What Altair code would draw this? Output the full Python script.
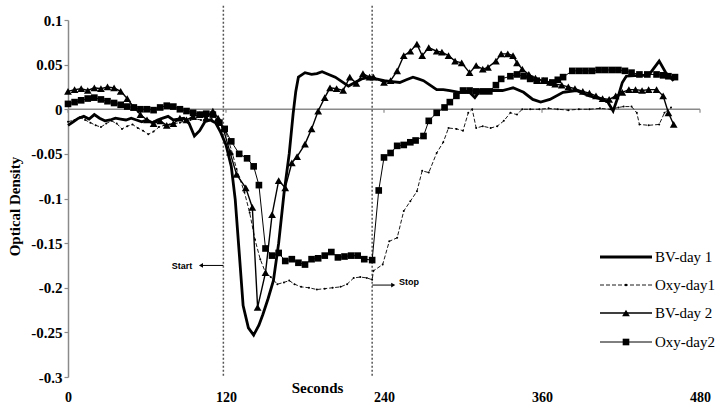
import altair as alt
import pandas as pd

# ---------------- series (time in s, optical density) ----------------
bv1_t = [0, 4, 8, 12, 16, 20, 24, 28, 32, 36, 40, 44, 48, 52, 56, 60, 64, 68, 72, 76,
         80, 84, 88, 92, 96, 100, 104, 108, 112, 116, 120, 124, 127, 130, 133, 137, 141,
         145, 148, 152, 156, 160, 164, 168, 171, 173, 175, 180, 185, 189, 193, 198, 203,
         208, 213, 218, 223, 229, 234, 240, 246, 252, 257, 262, 266, 270, 275, 280, 285,
         290, 297, 305, 309, 313, 320, 330, 338, 346, 353, 359, 366, 376, 386, 396, 406,
         410, 414, 418, 421, 424, 434, 441, 445, 449, 454, 460]
bv1_v = [-0.018, -0.014, -0.010, -0.008, -0.011, -0.006, -0.010, -0.013, -0.012, -0.010,
         -0.011, -0.012, -0.010, -0.012, -0.014, -0.012, -0.015, -0.012, -0.010, -0.008,
         -0.012, -0.011, -0.010, -0.016, -0.030, -0.024, -0.014, -0.012, -0.015, -0.026,
         -0.040, -0.064, -0.101, -0.160, -0.220, -0.245, -0.253, -0.242, -0.230, -0.212,
         -0.192, -0.150, -0.095, -0.050, -0.005, 0.020, 0.036, 0.041, 0.039, 0.040,
         0.042, 0.039, 0.036, 0.031, 0.026, 0.030, 0.034, 0.036, 0.034, 0.032,
         0.031, 0.030, 0.033, 0.036, 0.034, 0.032, 0.027, 0.022, 0.022, 0.021,
         0.019, 0.019, 0.013, 0.021, 0.021, 0.021, 0.024, 0.019, 0.011, 0.008,
         0.011, 0.019, 0.021, 0.015, 0.011, 0.008, -0.002, 0.015, 0.030, 0.037,
         0.038, 0.038, 0.046, 0.054, 0.041, 0.032]

oxy1_t = [0, 5, 9, 13, 17, 21, 25, 29, 33, 37, 41, 45, 49, 53, 57, 61, 65, 69, 73, 77,
          81, 85, 89, 93, 97, 101, 105, 109, 113, 117, 120, 125, 128, 134, 138, 142, 146,
          150, 154, 159, 164, 168, 172, 177, 183, 189, 195, 201, 207, 212, 217, 222, 227,
          231, 232, 239, 244, 250, 255, 260, 265, 269, 274, 280, 285, 289, 295, 300, 304,
          307, 310, 315, 321, 326, 331, 336, 341, 345, 351, 358, 365, 372, 380, 388, 396,
          404, 412, 418, 422, 428, 432, 434, 441, 449, 453, 458]
oxy1_v = [-0.014, -0.012, -0.009, -0.012, -0.015, -0.018, -0.020, -0.016, -0.013, -0.016,
          -0.022, -0.019, -0.017, -0.021, -0.024, -0.028, -0.025, -0.020, -0.018, -0.017,
          -0.016, -0.015, -0.013, -0.012, -0.011, -0.012, -0.011, -0.011, -0.012, -0.020,
          -0.026, -0.050, -0.067, -0.093, -0.116, -0.146, -0.168, -0.183, -0.188, -0.196,
          -0.194, -0.192, -0.196, -0.199, -0.200, -0.202, -0.201, -0.200, -0.199, -0.196,
          -0.189, -0.188, -0.189, -0.191, -0.181, -0.174, -0.148, -0.144, -0.114, -0.103,
          -0.092, -0.069, -0.071, -0.049, -0.037, -0.021, -0.022, -0.024, -0.004, 0.000,
          -0.021, -0.019, -0.021, -0.019, -0.013, -0.004, -0.006, 0.000, 0.000, 0.000,
          0.001, 0.000, -0.001, 0.000, 0.000, 0.001, 0.000, 0.002, 0.003, 0.003,
          -0.004, -0.017, -0.018, -0.017, -0.004, 0.002]

bv2_t = [0, 5, 10, 15, 20, 25, 30, 35, 40, 45, 50, 55, 60, 65, 70, 75, 80, 85, 90, 95,
         100, 105, 110, 114, 118, 123, 128, 135, 140, 144, 150, 155, 160, 165, 170, 174,
         180, 185, 190, 195, 199, 204, 209, 214, 219, 224, 229, 232, 240, 245, 250, 255,
         260, 265, 269, 274, 280, 284, 289, 294, 299, 305, 310, 315, 319, 325, 329, 334,
         338, 341, 345, 350, 355, 361, 366, 370, 375, 380, 385, 391, 396, 401, 406, 411,
         416, 421, 426, 431, 436, 441, 447, 452, 456, 460]
bv2_v = [0.020, 0.022, 0.023, 0.021, 0.024, 0.023, 0.025, 0.024, 0.020, 0.012,
         0.002, -0.006, -0.012, -0.016, -0.013, -0.018, -0.016, -0.010, -0.012, -0.008,
         -0.006, -0.010, -0.002, -0.010, -0.022, -0.048, -0.073, -0.088, -0.110, -0.222,
         -0.183, -0.118, -0.080, -0.088, -0.060, -0.053, -0.039, -0.022, -0.002, 0.013,
         0.024, 0.023, 0.021, 0.036, 0.029, 0.040, 0.036, 0.036, 0.030, 0.032,
         0.043, 0.060, 0.065, 0.073, 0.060, 0.069, 0.065, 0.064, 0.060, 0.054,
         0.052, 0.041, 0.049, 0.045, 0.047, 0.054, 0.062, 0.062, 0.060, 0.052,
         0.045, 0.039, 0.035, 0.032, 0.030, 0.028, 0.027, 0.025, 0.023, 0.020,
         0.018, 0.015, 0.012, 0.011, 0.015, 0.019, 0.022, 0.022, 0.021, 0.022,
         0.022, 0.015, -0.004, -0.017]

oxy2_t = [0, 5, 10, 15, 20, 25, 30, 35, 40, 45, 50, 55, 60, 65, 70, 75, 80, 85, 90, 95,
          100, 105, 110, 115, 119, 124, 130, 136, 141, 145, 150, 155, 160, 165, 170, 175,
          180, 185, 190, 195, 200, 205, 210, 215, 220, 225, 231, 236, 240, 245, 250, 255,
          260, 264, 270, 274, 280, 286, 290, 295, 300, 305, 310, 315, 320, 325, 329, 336,
          341, 346, 351, 356, 362, 368, 372, 376, 383, 388, 393, 398, 403, 408, 413, 418,
          423, 428, 434, 440, 447, 452, 456, 461]
oxy2_v = [0.006, 0.008, 0.010, 0.012, 0.013, 0.011, 0.009, 0.007, 0.005, 0.003,
          0.002, 0.000, 0.000, -0.001, 0.002, 0.004, 0.003, 0.000, -0.002, -0.004,
          -0.006, -0.005, -0.006, -0.015, -0.022, -0.036, -0.050, -0.055, -0.064, -0.085,
          -0.156, -0.164, -0.161, -0.170, -0.168, -0.172, -0.174, -0.168, -0.167, -0.164,
          -0.160, -0.166, -0.165, -0.164, -0.164, -0.168, -0.169, -0.091, -0.054, -0.049,
          -0.041, -0.040, -0.037, -0.035, -0.030, -0.013, -0.004, 0.002, 0.008, 0.015,
          0.021, 0.021, 0.020, 0.020, 0.020, 0.027, 0.034, 0.037, 0.039, 0.037,
          0.034, 0.032, 0.032, 0.030, 0.033, 0.036, 0.043, 0.043, 0.043, 0.043,
          0.044, 0.044, 0.044, 0.044, 0.043, 0.041, 0.039, 0.039, 0.039, 0.038,
          0.037, 0.036]

# axis ticks
x_ticks = [0, 120, 240, 360, 480]
y_ticks = [0.1, 0.05, 0, -0.05, -0.1, -0.15, -0.2, -0.25, -0.3]

# stimulus markers (start / stop of the task)
event_t = [118, 231]

SERIF = "Liberation Serif"
SANS = "Liberation Sans"
GRAY = "#8a8a8a"

x_scale = alt.Scale(domain=[0, 480], nice=False, zero=False)
y_scale = alt.Scale(domain=[-0.3, 0.1], nice=False, zero=False)

x_axis = alt.Axis(values=x_ticks, domain=False, ticks=False, grid=False,
                  labelFont=SERIF, labelFontWeight="bold", labelFontSize=14,
                  labelColor="black", labelPadding=13, labelFlush=False,
                  title="Seconds", titleFont=SERIF, titleFontWeight="bold",
                  titleFontSize=15, titleColor="black", titleX=249, titleY=10,
                  titleAlign="center", titleBaseline="middle")
y_axis = alt.Axis(values=y_ticks, labelExpr="'' + datum.value", grid=False,
                  domainColor=GRAY, domainWidth=1.5, tickColor=GRAY, tickSize=4,
                  tickWidth=1.2, labelFont=SERIF, labelFontWeight="bold",
                  labelFontSize=15, labelColor="black", labelPadding=2,
                  title="Optical Density", titleFont=SERIF, titleFontWeight="bold",
                  titleFontSize=15, titleColor="black", titleX=-54, titleY=186,
                  titleAngle=270, titleAlign="center", titleBaseline="middle")


def X(field="t"):
    return alt.X(f"{field}:Q", scale=x_scale, axis=x_axis)


def Y(field="v"):
    return alt.Y(f"{field}:Q", scale=y_scale, axis=y_axis)


def frame(t, v):
    return pd.DataFrame({"t": t, "v": v})


# horizontal zero line with its small tick marks
zero_df = pd.DataFrame({"t": [0], "t2": [480], "v": [0.0]})
zero_line = alt.Chart(zero_df).mark_rule(color=GRAY, strokeWidth=1.5).encode(
    x=X(), x2="t2:Q", y=Y())
tick_df = pd.DataFrame({"t": x_ticks, "v": [0.0] * 5, "v2": [-0.004] * 5})
zero_ticks = alt.Chart(tick_df).mark_rule(color=GRAY, strokeWidth=1.2).encode(
    x=X(), y=Y(), y2="v2:Q")

# dotted vertical event lines
ev_df = pd.DataFrame({"t": event_t, "v": [0.116, 0.116], "v2": [-0.3, -0.3]})
events = alt.Chart(ev_df).mark_rule(color="#555555", strokeWidth=1.5,
                                    strokeDash=[2, 2]).encode(x=X(), y=Y(), y2="v2:Q")

# data series
bv1 = alt.Chart(frame(bv1_t, bv1_v)).mark_line(color="black", strokeWidth=2.8).encode(
    x=X(), y=Y())
oxy1 = alt.Chart(frame(oxy1_t, oxy1_v)).mark_line(
    color="black", strokeWidth=0.9, strokeDash=[4, 2]).encode(x=X(), y=Y())
oxy1_pts = alt.Chart(frame(oxy1_t, oxy1_v)).mark_point(
    shape="circle", filled=True, size=4, color="black", opacity=1).encode(x=X(), y=Y())
bv2 = alt.Chart(frame(bv2_t, bv2_v)).mark_line(color="black", strokeWidth=1.4).encode(
    x=X(), y=Y())
bv2_pts = alt.Chart(frame(bv2_t, bv2_v)).mark_point(
    shape="triangle-up", filled=True, size=60, color="black", opacity=1).encode(
    x=X(), y=Y())
oxy2 = alt.Chart(frame(oxy2_t, oxy2_v)).mark_line(color="black", strokeWidth=1.0).encode(
    x=X(), y=Y())
oxy2_pts = alt.Chart(frame(oxy2_t, oxy2_v)).mark_point(
    shape="square", filled=True, size=44, color="black", opacity=1).encode(x=X(), y=Y())

# Start / Stop annotations with arrows
arrow_df = pd.DataFrame({"t": [118, 231], "t2": [101, 247], "v": [-0.175, -0.197]})
arrows = alt.Chart(arrow_df).mark_rule(color="black", strokeWidth=1).encode(
    x=X(), x2="t2:Q", y=Y())
heads_df = pd.DataFrame({"t": [101, 247], "v": [-0.175, -0.197],
                         "shape": ["triangle-left", "triangle-right"]})
heads = alt.Chart(heads_df).mark_point(filled=True, size=22, color="black",
                                       opacity=1).encode(
    x=X(), y=Y(), shape=alt.Shape("shape:N", scale=None))
label_df = pd.DataFrame({"t": [86.5, 259], "v": [-0.176, -0.193], "txt": ["Start", "Stop"]})
labels = alt.Chart(label_df).mark_text(font=SANS, fontWeight="bold", fontSize=9,
                                       color="black").encode(x=X(), y=Y(), text="txt:N")

# legend, drawn inside the plot on the right
legend_names = ["BV-day 1", "Oxy-day1", "BV-day 2", "Oxy-day2"]
legend_rows = [237, 265, 293, 322]
legend_width = [2.8, 0.9, 1.4, 1.0]
legend_dash = [[1, 0], [4, 2], [1, 0], [1, 0]]
legend_shape = [None, "circle", "triangle-up", "square"]
legend_size = [0, 6, 60, 44]

legend_layers = []
dummy = pd.DataFrame({"k": [0]})
for name, py, w, dash, shp, sz in zip(legend_names, legend_rows, legend_width,
                                      legend_dash, legend_shape, legend_size):
    legend_layers.append(
        alt.Chart(dummy).mark_rule(color="black", strokeWidth=w, strokeDash=dash).encode(
            x=alt.value(532), x2=alt.value(584), y=alt.value(py)))
    if shp:
        legend_layers.append(
            alt.Chart(dummy).mark_point(shape=shp, filled=True, size=sz, color="black",
                                        opacity=1).encode(
                x=alt.value(558), y=alt.value(py)))
    legend_layers.append(
        alt.Chart(dummy).mark_text(text=name, font=SERIF, fontSize=15, align="left",
                                   baseline="middle", color="black").encode(
            x=alt.value(587), y=alt.value(py)))

chart = alt.layer(
    zero_line, zero_ticks, events, oxy1, oxy1_pts, oxy2, oxy2_pts, bv2, bv2_pts, bv1,
    arrows, heads, labels, *legend_layers
).properties(
    width=632, height=357,
    padding={"left": 68, "top": 20, "right": 16, "bottom": 33},
    autosize=alt.AutoSizeParams(type="none"),
    background="white",
).configure_view(stroke=None)

chart.save("out.html", embed_options={"renderer": "svg", "actions": False})
